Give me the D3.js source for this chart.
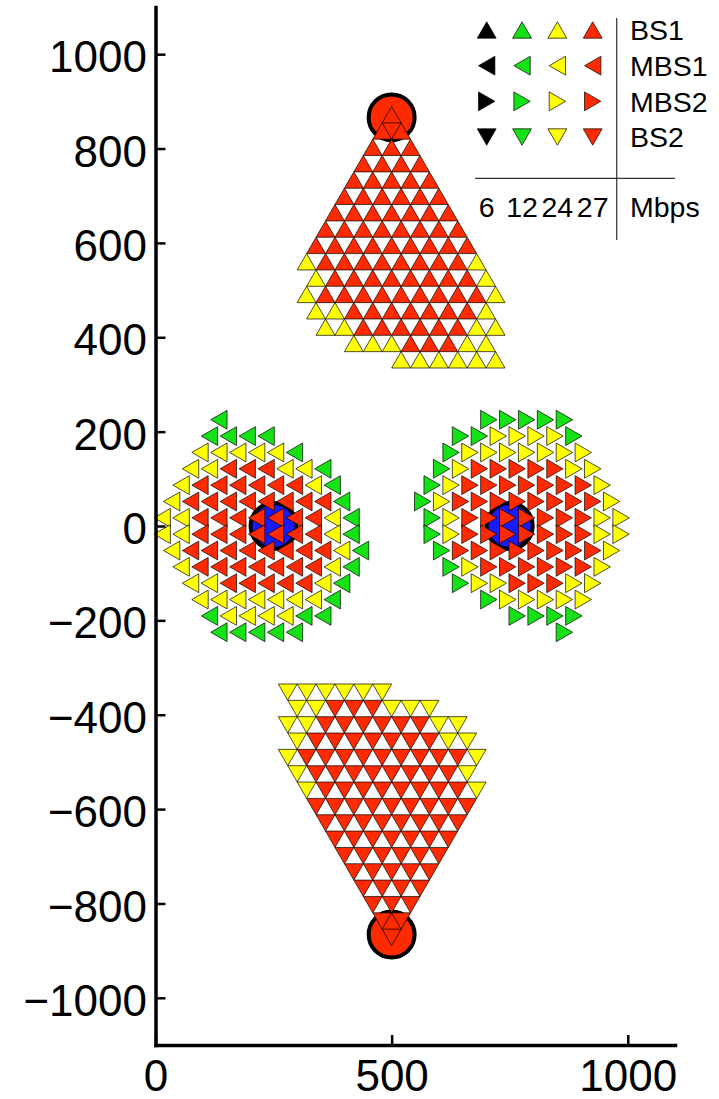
<!DOCTYPE html>
<html><head><meta charset="utf-8">
<script src="https://cdn.jsdelivr.net/npm/d3@7"></script>
<style>
body{margin:0;background:#fff}
svg{display:block}
text{font-family:"Liberation Sans", Arial, Helvetica, sans-serif;fill:#000}
</style>
</head><body>
<svg id="chart" width="719" height="1099"></svg>
<script>
// ---------------- data ----------------
const rates = ["6", "12", "24", "27"];                 // Mbps classes (legend columns)
const rateOfCode = {K: "6", G: "12", Y: "24", R: "27"};
const stationNames = ["BS1", "MBS1", "MBS2", "BS2"];
const stationX = [500, 250, 750, 500];
const stationY = [866, 0, 0, -866];
const gridStep = 40;                                    // lattice spacing (m)
const xTicks = [0, 500, 1000];
const yTicks = [-1000, -800, -600, -400, -200, 0, 200, 400, 600, 800, 1000];

// each row: [lattice row index (y = index * step*sqrt(3)/2), first x, rate codes left->right]
const bs1Rows = [
  [25, 500, "R"], [24, 480, "RR"], [23, 460, "RRR"], [22, 440, "RRRR"],
  [21, 420, "RRRRR"], [20, 400, "RRRRRR"], [19, 380, "RRRRRRR"],
  [18, 360, "RRRRRRRR"], [17, 340, "RRRRRRRRR"],
  [16, 320, "YRRRRRRRRY"], [15, 340, "YRRRRRRRRY"], [14, 320, "YRRRRRRRRRY"],
  [13, 340, "YYRRRRRRRY"], [12, 360, "YYRRRRRRYY"], [11, 420, "YYYRRRYY"],
  [10, 520, "YYYYYY"]
];
const mbs1Rows = [
  [6.5, 140, "G"], [5.5, 120, "GGGG"], [4.5, 100, "YYYYYG"],
  [3.5, 80, "YYRRRYYG"], [2.5, 60, "YRRRRRRYG"], [1.5, 40, "YRRRRRRRRG"],
  [0.5, 20, "YYRRRRRRRYG"], [-0.5, 20, "YYRRRRRRRYG"],
  [-1.5, 40, "YRRRRRRRRYG"], [-2.5, 60, "YRRRRRRRYG"], [-3.5, 80, "YYRRRRRYG"],
  [-4.5, 100, "YYYYYYYG"], [-5.5, 120, "GYYYYGG"], [-6.5, 140, "GGGGG"]
];
const mbs2Rows = [
  [6.5, 700, "GGGGG"], [5.5, 640, "GGYYYYG"], [4.5, 620, "GYYYYYYY"],
  [3.5, 600, "GYRRRRRYY"], [2.5, 580, "GYRRRRRRRY"], [1.5, 560, "GYRRRRRRRRY"],
  [0.5, 580, "GYRRRRRRRYY"], [-0.5, 580, "GYRRRRRRRYY"],
  [-1.5, 600, "GRRRRRRRRY"], [-2.5, 620, "GYRRRRRRY"], [-3.5, 640, "GYYRRRYY"],
  [-4.5, 700, "GYYYYY"], [-5.5, 760, "GGGG"], [-6.5, 860, "G"]
];
const bs2Rows = [
  [-10, 280, "YYYYYY"], [-11, 300, "YYRRRYYY"], [-12, 280, "YYRRRRRRYY"],
  [-13, 300, "YRRRRRRRYY"], [-14, 280, "YRRRRRRRRRY"], [-15, 300, "YRRRRRRRRY"],
  [-16, 320, "YRRRRRRRRY"], [-17, 340, "RRRRRRRRR"], [-18, 360, "RRRRRRRR"],
  [-19, 380, "RRRRRRR"], [-20, 400, "RRRRRR"], [-21, 420, "RRRRR"],
  [-22, 440, "RRRR"], [-23, 460, "RRR"], [-24, 480, "RR"], [-25, 500, "R"]
];

// ---------------- styles ----------------
const rateColor = {"6": "#000000", "12": "#16e016", "24": "#ffff00", "27": "#ff2a00"};
const stationFill = {"BS1": "#ff2a00", "MBS1": "#1a1aff", "MBS2": "#1a1aff", "BS2": "#ff2a00"};
const stationDir = {"BS1": "up", "MBS1": "left", "MBS2": "right", "BS2": "down"};
const rowsOf = {"BS1": bs1Rows, "MBS1": mbs1Rows, "MBS2": mbs2Rows, "BS2": bs2Rows};

// ---------------- drawing ----------------
const svg = d3.select("#chart");
const x = d3.scaleLinear().domain([0, 1100]).range([155.5, 675]);
const y = d3.scaleLinear().domain([-1100, 1100]).range([1045, 7]);

const side = x(gridStep) - x(0);
const rowH = gridStep * Math.sqrt(3) / 2;

function triPath(cx, cy, dir, s) {
  const h = s * Math.sqrt(3) / 2;
  let p;
  if (dir === "up") p = [[cx, cy - 2*h/3], [cx + s/2, cy + h/3], [cx - s/2, cy + h/3]];
  else if (dir === "down") p = [[cx, cy + 2*h/3], [cx + s/2, cy - h/3], [cx - s/2, cy - h/3]];
  else if (dir === "left") p = [[cx - 2*h/3, cy], [cx + h/3, cy - s/2], [cx + h/3, cy + s/2]];
  else p = [[cx + 2*h/3, cy], [cx - h/3, cy - s/2], [cx - h/3, cy + s/2]];
  return "M" + p.map(q => q[0].toFixed(2) + "," + q[1].toFixed(2)).join("L") + "Z";
}

// station circles (under markers)
const stations = stationNames.map((n, i) => ({name: n, x: stationX[i], y: stationY[i]}));
svg.append("g").selectAll("circle").data(stations).join("circle")
  .attr("cx", d => x(d.x)).attr("cy", d => y(d.y)).attr("r", 23)
  .attr("fill", d => stationFill[d.name]).attr("stroke", "#000").attr("stroke-width", 4);

// user points
const points = stationNames.flatMap(n => rowsOf[n].flatMap(([r, x0, codes]) =>
  codes.split("").map((c, i) => ({station: n, x: x0 + i * gridStep, y: r * rowH, rate: rateOfCode[c]}))));

svg.append("g").selectAll("path").data(points).join("path")
  .attr("d", d => triPath(x(d.x), y(d.y), stationDir[d.station], side))
  .attr("fill", d => rateColor[d.rate])
  .attr("stroke", "#000").attr("stroke-width", 0.7).attr("stroke-linejoin", "miter");

// axes
const fmt = d => d < 0 ? "\u2212" + Math.abs(d) : String(d);
const gy = svg.append("g").attr("transform", `translate(${x(0)},0)`)
  .call(d3.axisLeft(y).tickValues(yTicks).tickFormat(fmt).tickSize(-10).tickSizeOuter(0).tickPadding(8.5));
const gx = svg.append("g").attr("transform", `translate(0,${y(-1100)})`)
  .call(d3.axisBottom(x).tickValues(xTicks).tickFormat(fmt).tickSize(-10).tickSizeOuter(0).tickPadding(15));
[gy, gx].forEach(g => {
  g.select(".domain").attr("stroke", "#000").attr("stroke-width", 3.5).attr("stroke-linecap", "square");
  g.selectAll(".tick line").attr("stroke", "#000").attr("stroke-width", 2.5);
  g.selectAll(".tick text").attr("font-size", 44).attr("fill", "#000")
    .attr("font-family", "'Liberation Sans', Arial, sans-serif");
});
gy.selectAll(".tick text").attr("dy", "0.40em");

// legend
const legX = d3.scalePoint().domain(rates).range([486.7, 592.7]);
const legY = d3.scalePoint().domain(stationNames).range([30, 137]);
const hh = side * Math.sqrt(3) / 2;
const offs = {up: [0, hh/6], down: [0, -hh/6], left: [hh/6, 0], right: [-hh/6, 0]};
const legItems = stationNames.flatMap(n => rates.map(r => ({station: n, rate: r})));
const lg = svg.append("g");
lg.selectAll("path").data(legItems).join("path")
  .attr("d", d => {
    const dir = stationDir[d.station], o = offs[dir];
    return triPath(legX(d.rate) + o[0], legY(d.station) + o[1], dir, side);
  })
  .attr("fill", d => rateColor[d.rate]).attr("stroke", "#000").attr("stroke-width", 0.7);
lg.selectAll("text.st").data(stationNames).join("text").attr("class", "st")
  .attr("x", 630).attr("y", d => legY(d)).attr("dy", "0.36em")
  .attr("font-size", 28.5).text(d => d);
lg.selectAll("text.rt").data(rates).join("text").attr("class", "rt")
  .attr("x", d => legX(d)).attr("y", 207).attr("dy", "0.36em")
  .attr("text-anchor", "middle").attr("font-size", 28.5).text(d => d);
lg.append("text").attr("x", 630).attr("y", 207).attr("dy", "0.36em")
  .attr("font-size", 28.5).text("Mbps");
lg.append("line").attr("x1", 616.7).attr("x2", 616.7).attr("y1", 18).attr("y2", 240)
  .attr("stroke", "#333").attr("stroke-width", 1.2);
lg.append("line").attr("x1", 475).attr("x2", 675).attr("y1", 178.3).attr("y2", 178.3)
  .attr("stroke", "#333").attr("stroke-width", 1.2);
</script>
</body></html>
